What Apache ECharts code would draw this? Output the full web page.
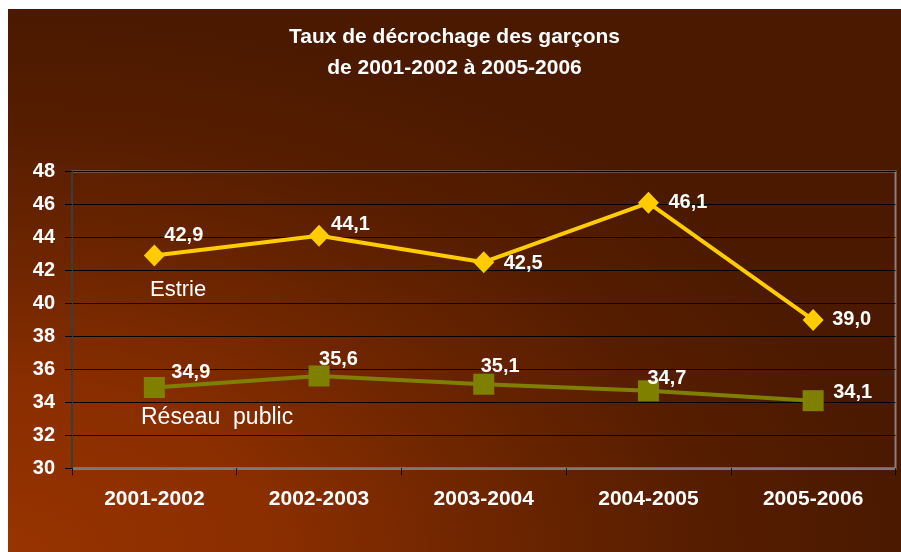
<!DOCTYPE html>
<html>
<head>
<meta charset="utf-8">
<script src="https://cdn.jsdelivr.net/npm/echarts@6/dist/echarts.min.js"></script>
<style>
  html, body { margin: 0; padding: 0; background: #fff; }
  #chart {
    position: absolute; left: 8px; top: 9px; width: 893px; height: 543px;
    background: radial-gradient(ellipse farthest-side at 0% 100%, #973300 0%, #8a2e00 30%, #6c2500 55%, #561d00 78%, #4a1900 100%);
  }
</style>
</head>
<body>
<div id="chart"></div>
<script>
// données
var annees = ['2001-2002', '2002-2003', '2003-2004', '2004-2005', '2005-2006'];
var estrie = [42.9, 44.1, 42.5, 46.1, 39.0];
var reseau = [34.9, 35.6, 35.1, 34.7, 34.1];

// décalage des étiquettes (gauche du texte, milieu vertical) par rapport au marqueur
var decalEstrie = [[10, -20], [12, -11], [20, 1], [20, 0], [19, 0]];
var decalReseau = [[17, -15], [0, -16], [-3, -18], [-1, -12], [20, -8]];

var police = "Arial, 'Liberation Sans', sans-serif";

function virgule(v) {
    return v.toFixed(1).replace('.', ',');
}

function points(valeurs, decal) {
    var arr = [];
    for (var i = 0; i < valeurs.length; i++) {
        arr.push({
            value: valeurs[i],
            label: { offset: decal[i] }
        });
    }
    return arr;
}

var etiquette = {
    show: true,
    position: 'inside',
    align: 'left',
    verticalAlign: 'middle',
    color: '#fff',
    fontFamily: police,
    fontWeight: 'bold',
    fontSize: 20,
    formatter: function (p) { return virgule(p.value); }
};

var myChart = echarts.init(document.getElementById('chart'));

var option = {
    animation: false,
    backgroundColor: 'transparent',
    title: {
        text: 'Taux de décrochage des garçons\nde 2001-2002 à 2005-2006',
        left: 'center',
        top: 13,
        padding: 0,
        textStyle: {
            color: '#fff',
            fontFamily: police,
            fontWeight: 'bold',
            fontSize: 21,
            lineHeight: 31
        }
    },
    grid: {
        left: 64,
        top: 162.5,
        right: 5.5,
        bottom: 83.7,
        show: true,
        borderColor: '#808080',
        borderWidth: 2,
        backgroundColor: 'transparent'
    },
    xAxis: {
        type: 'category',
        data: annees,
        boundaryGap: true,
        axisLine: { lineStyle: { color: '#7a7a7a', width: 2 } },
        axisTick: { show: true, length: 7, lineStyle: { color: '#000', width: 1 } },
        axisLabel: {
            color: '#fff',
            fontFamily: police,
            fontWeight: 'bold',
            fontSize: 21,
            margin: 20
        },
        splitLine: { show: false }
    },
    yAxis: {
        type: 'value',
        min: 30,
        max: 48,
        interval: 2,
        axisLine: { show: true, lineStyle: { color: '#3c3c3c', width: 2 } },
        axisTick: { show: true, length: 7, lineStyle: { color: '#000', width: 1 } },
        axisLabel: {
            color: '#fff',
            fontFamily: police,
            fontWeight: 'bold',
            fontSize: 20,
            margin: 17
        },
        splitLine: { show: true, lineStyle: { color: '#000', width: 1 } }
    },
    graphic: [
        {
            type: 'text',
            left: 142,
            top: 270,
            style: { text: 'Estrie', fill: '#fff', font: 'normal 22px ' + police }
        },
        {
            type: 'text',
            left: 133,
            top: 397,
            style: { text: 'Réseau  public', fill: '#fff', font: 'normal 23px ' + police }
        }
    ],
    series: [
        {
            name: 'Estrie',
            type: 'line',
            data: points(estrie, decalEstrie),
            symbol: 'diamond',
            symbolSize: [21, 22],
            lineStyle: { color: '#ffcc00', width: 4 },
            itemStyle: { color: '#ffcc00' },
            label: etiquette,
            z: 3
        },
        {
            name: 'Réseau public',
            type: 'line',
            data: points(reseau, decalReseau),
            symbol: 'rect',
            symbolSize: 21,
            lineStyle: { color: '#808000', width: 4 },
            itemStyle: { color: '#808000' },
            label: etiquette,
            z: 2
        }
    ]
};

myChart.setOption(option);
</script>
</body>
</html>
